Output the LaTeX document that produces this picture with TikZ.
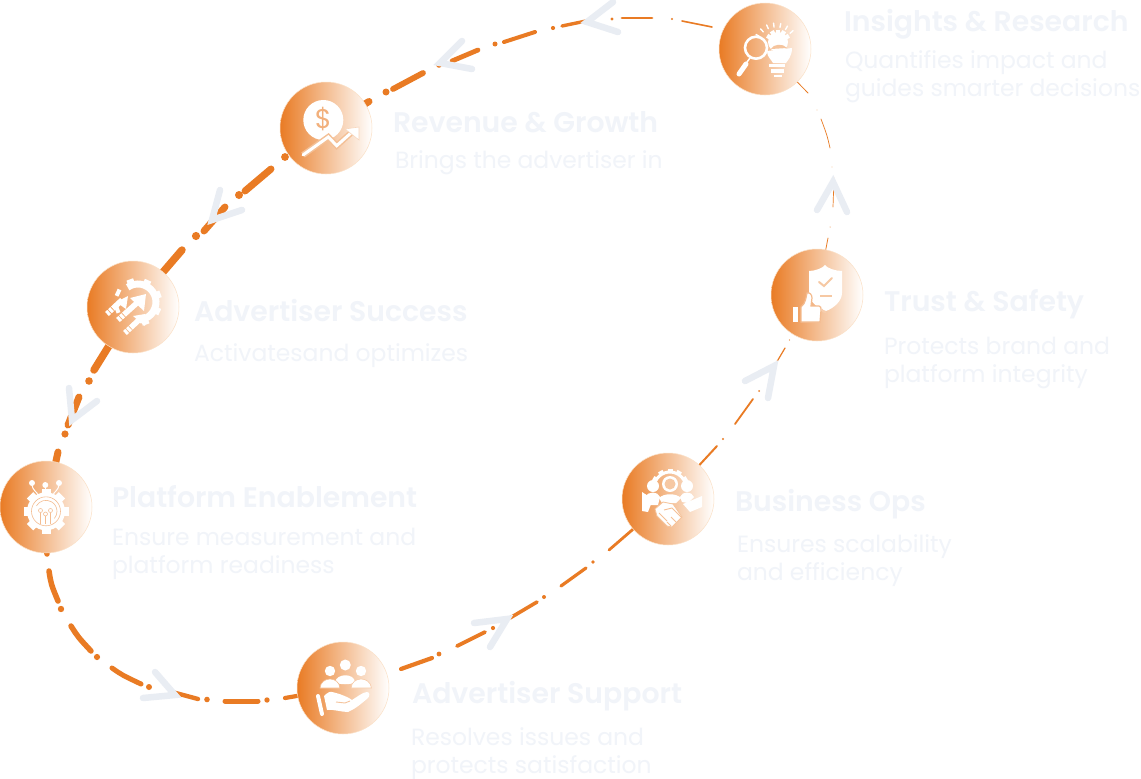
\documentclass[tikz,border=0pt]{standalone}
\usepackage{fontspec}
\setmainfont{Poppins}[BoldFont={Poppins SemiBold}]
\usetikzlibrary{arrows.meta,backgrounds,calc}
\definecolor{orng}{HTML}{E97B24}
\definecolor{chev}{HTML}{E9EDF3}
\definecolor{txt}{HTML}{F1F4F9}
\definecolor{rimc}{HTML}{FBE0C6}
\tikzset{
  x=1pt,y=-1pt,
  badge/.style={circle,minimum size=92pt,inner sep=0pt,outer sep=0pt,left color=orng,right color=white,draw=rimc,line width=.5pt},
  ttl/.style={anchor=base west,inner sep=0pt,outer sep=0pt,text=txt,font=\fontsize{28.3}{34}\selectfont\bfseries},
  dsc/.style={anchor=base west,inner sep=0pt,outer sep=0pt,text=txt,align=left,font=\fontsize{23.45}{28}\selectfont},
  seg/.style={draw=orng,line cap=round,line width=#1},
  chv/.style={draw=chev,line width=6.5pt,line cap=round,line join=miter},
  lin/.style={draw=white,line cap=round,line join=round},
}
\newcommand{\dt}[3]{\fill[orng] (#1,#2) circle[radius=#3pt];}
\newcommand{\teeth}[6]{% cx cy r halfw height anglelist
  \foreach \tang in {#6}{\fill[white,shift={(#1,#2)},rotate=\tang] (-#4,-#3) rectangle (#4,-#3-#5);}}
\begin{document}
\begin{tikzpicture}
\useasboundingbox (0,0) rectangle (1141,779);

% ---- badges
\node[badge] (insights) at (765,49) {};
\node[badge] (revenue) at (326,128) {};
\node[badge] (success) at (133,307) {};
\node[badge] (platform) at (46,507) {};
\node[badge] (support) at (343,688) {};
\node[badge] (bizops) at (668,499) {};
\node[badge] (trust) at (817,295) {};

% ---- ring, as one hand-tapered dash-dot stroke
\begin{scope}[on background layer]
\fill[white] (0,0) rectangle (1141,779);
\draw[seg=1.6pt] (682,21) -- (712,27);
\dt{672}{19}{1.1}
\draw[seg=2.8pt] (622,18) -- (652,18);
\dt{612}{19}{1.6}
\draw[seg=3.4pt] (562,26) -- (586,21);
\dt{553}{28}{2.1}
\draw[seg=4pt] (504,42) -- (535,32);
\dt{495}{44}{2.5}
\draw[seg=4.8pt] (452,61) -- (478,50);
\dt{439}{65}{2.8}
\draw[seg=5.8pt] (393,89) -- (423,73);
\dt{386}{92}{3.5}
\draw[seg=7pt] (369,101.5) -- (revenue);
\dt{285}{157}{3.9}
\draw[seg=7pt] (271,169) -- (245,191);
\dt{239}{195}{4}
\draw[seg=7pt] (225,207) -- (204,231);
\dt{196}{236}{4.1}
\draw[seg=7.5pt] (182,250) -- (success);
\draw[seg=7.5pt] (success) -- (94,370);
\dt{89}{381}{3.8}
\draw[seg=7pt] (79,397) -- (68,425);
\dt{65}{434}{3.6}
\draw[seg=7pt] (58,452) -- (platform);
\draw[seg=5.5pt] (platform) -- (47,554);
\draw[seg=5.5pt] (49,571) .. controls (51,584) .. (58,601);
\dt{61}{609}{3.2}
\draw[seg=5.5pt] (71,626) .. controls (78,637) .. (91,651);
\dt{97}{657}{3.1}
\draw[seg=5pt] (112,668) .. controls (122,675) .. (141,684);
\dt{149}{687}{3}
\draw[seg=4.4pt] (172,692) -- (198,699);
\dt{207}{699.5}{2.8}
\draw[seg=5pt] (225,701) -- (258,701);
\dt{267}{700}{2.7}
\draw[seg=4.2pt] (285,698) -- (support);
\draw[seg=4.2pt] (401,669) -- (432,658);
\dt{439}{654}{2.4}
\draw[seg=3.8pt] (457,646) -- (485,632);
\dt{493}{628}{2.1}
\draw[seg=3.6pt] (510,618) -- (537,602);
\dt{544}{597}{2}
\draw[seg=3.2pt] (561,586) -- (586,568);
\dt{593}{562}{1.9}
\draw[seg=2.8pt] (609,550) -- (bizops);
\draw[seg=2pt] (717,446) -- (bizops);
\dt{723}{439}{1.2}
\draw[seg=1.8pt] (735,424) -- (753,399);
\dt{759}{391}{1}
\draw[seg=1.2pt] (775,365) -- (785,348);
\dt{789.5}{340}{.7}
\draw[seg=.8pt] (trust) -- (828,238);
\dt{830}{227}{.5}
\draw[seg=.7pt] (833,207) -- (834,178);
\dt{832}{167}{.4}
\draw[seg=.7pt] (830,148) .. controls (827,135) .. (821,119);
\dt{817}{110}{.4}
\draw[seg=.8pt] (insights) -- (808,93);
% ---- chevrons
\draw[chv] (613,2) -- (587,22) -- (618,32);
\draw[chv] (462,41) -- (440,63) -- (472,69);
\draw[chv] (220,190) -- (212,220) -- (242,210);
\draw[chv] (69,388) -- (72,420) -- (97,401);
\draw[chv] (155,672) -- (175,695) -- (143,698);
\draw[chv] (474,623) -- (507,619) -- (490,647);
\draw[chv] (745,381) -- (774,366) -- (768,398);
\draw[chv] (817,210) -- (833,182) -- (847,212);
\end{scope}

% ---- icon: insights
\begin{scope}[shift={(insights.center)}]
\draw[lin,line width=2.6pt] (-9,-1.3) circle[radius=11pt];
\draw[lin,line width=1.5pt] (-15,9) -- (-18,13);
\draw[lin,line width=5pt] (-19,15) -- (-26,25);
\foreach \ra in {-150,-132,-114,-96,-78,-60,-42}{
  \draw[lin,line width=1.4pt] ($(11,-3)+(\ra:19)$) -- ($(11,-3)+(\ra:23)$);}
\fill[white] (13,-7) circle[radius=10pt];
\teeth{13}{-7}{9}{2.2}{3.5}{-60,-30,0,30,60}
\fill[white] (2,2) -- (27,-1) .. controls (27,8) and (22,12) .. (21,14) -- (8,14) .. controls (6,10) and (2,8) .. (2,2) -- cycle;
\fill[orng!45!white] (6,0) .. controls (8,-5) and (18,-6) .. (22,-1) -- cycle;
\fill[white] (4,15) rectangle (20,18);
\fill[white] (6,20) rectangle (19,24);
\fill[white] (9,26) rectangle (17,28);
\end{scope}

% ---- icon: revenue
\begin{scope}[shift={(revenue.center)}]
\fill[white] (-2.7,-8) circle[radius=20pt];
\node[inner sep=0pt,text=orng!60!white,font=\fontsize{27}{27}\selectfont] (dollar) at (-2.7,-9) {\$};
\draw[draw=orng!48!white,line width=6pt,line join=miter] (-23,27) -- (2.3,9) -- (10.7,17.7) -- (25.7,4.3);
\draw[lin,line width=3pt,line join=miter] (-23,27) -- (2.3,9) -- (10.7,17.7) -- (25.7,4.3);
\fill[white,draw=orng!30!white,line width=.6pt] (19,1) -- (33,-1) -- (33,12) -- cycle;
\end{scope}

% ---- icon: success
\begin{scope}[shift={(success.center)}]
\draw[white,line width=7pt] (5,-5) ++(-125:18) arc[start angle=-125,end angle=85,radius=18];
\teeth{5}{-5}{20}{3.5}{4}{-160,-115,-70,-25,20,65,110}
\begin{scope}[line width=5.5pt]
\draw[draw=white,dash pattern=on 3pt off 1pt on 3pt off 1pt on 30pt] (-26,7) -- (-11,-7);
\fill[white] (-5,-11) -- (-17,-5) -- (-7,2) -- cycle;
\draw[draw=white,dash pattern=on 3pt off 1pt on 3pt off 1pt on 30pt] (-15,13) -- (5,-5);
\fill[white] (13,-13) -- (-3,-9) -- (11,4) -- cycle;
\draw[draw=white,dash pattern=on 3pt off 1pt on 3pt off 1pt on 30pt] (-8,26) -- (7,12);
\fill[white] (12,7) -- (0,9) -- (12,19) -- cycle;
\end{scope}
\end{scope}

% ---- icon: platform
\begin{scope}[shift={(platform.center)}]
\fill[white] (0,4.3) circle[radius=19pt];
\teeth{0}{4.3}{17}{4.5}{5.5}{0,45,90,135,180,225,270,315}
\draw[orng!50!white,line width=.6pt] (0,4.3) circle[radius=14.5pt];
\draw[orng!50!white,line width=.6pt] (0,4.3) ++(-150:11) arc[start angle=-150,end angle=40,radius=11];
\foreach \px/\py in {-5.5/3.5,4.5/3.5,-0.5/7}{
  \draw[orng!50!white,line width=.6pt] (\px,\py) circle[radius=2pt];
  \draw[orng!50!white,line width=.6pt] (\px,\py+2) -- (\px,17);}
\fill[white] (-14,-24) circle[radius=3pt];
\fill[white] (-.7,-22) circle[radius=3pt];
\fill[white] (13,-24) circle[radius=3pt];
\draw[lin,line width=1pt] (-14,-24) .. controls (-14,-15) and (-8,-16) .. (-8,-11);
\draw[lin,line width=1pt] (-.7,-22) -- (-.7,-13);
\draw[lin,line width=1pt] (13,-24) .. controls (13,-15) and (7,-16) .. (7,-11);
\end{scope}

% ---- icon: support
\begin{scope}[shift={(support.center)}]
\fill[white] (2.3,-23) circle[radius=5.5pt];
\fill[white] (-13,-17) circle[radius=5.2pt];
\fill[white] (18,-17) circle[radius=5.2pt];
\fill[white] (-8,-6) .. controls (-6,-15) and (11,-15) .. (12,-6) .. controls (9,-3) and (-5,-3) .. (-8,-6) -- cycle;
\fill[white,draw=orng!50!white,line width=.6pt] (-23,0) .. controls (-22,-12) and (-4,-12) .. (-3,0) -- cycle;
\fill[white,draw=orng!40!white,line width=.6pt] (8,0) .. controls (9,-12) and (27,-12) .. (28.5,0) -- cycle;
\draw[lin,line width=4pt] (-25,8) -- (-21,26);
\fill[white] (-19,8) .. controls (-16,5) and (-13,3) .. (-11,4) .. controls (-6,5) and (0,7) .. (6,10) -- (9,12) .. controls (14,9) and (20,4) .. (24,4) .. controls (27,4) and (27,8) .. (25,10) .. controls (18,16) and (12,21) .. (5,24) .. controls (-2,24) and (-10,21) .. (-16,22) -- cycle;
\draw[orng!45!white,line width=.9pt] (-7,14) -- (2,15) -- (7,13);
\end{scope}

% ---- icon: business ops
\begin{scope}[shift={(bizops.center)}]
\draw[white,line width=3pt] (2,-11) ++(-165:16) arc[start angle=-165,end angle=-15,radius=16];
\teeth{2}{-11}{16.5}{2.5}{3}{-60,-30,0,30,60}
\fill[white] (-15,-13) circle[radius=6pt];
\fill[white] (19,-13) circle[radius=6pt];
\fill[white] (-23,-2) .. controls (-20,-8) and (-10,-8) .. (-8,-2) -- (-10,6) -- (-19,6) -- cycle;
\fill[white] (12,-2) .. controls (14,-8) and (24,-8) .. (26,-2) -- (20,4) -- (14,3) -- cycle;
\fill[white] (-9,-1) .. controls (-4,-6) and (8,-6) .. (13,-1) -- (8,4) -- (-6,4) -- cycle;
\fill[white] (2,-15) circle[radius=8pt];
\fill[orng!42!white] (2,-15) circle[radius=5.5pt];
\fill[white] (-26,-7) -- (-15,0) -- (-20,13) -- (-26,12) -- cycle;
\fill[white] (34,-3) -- (15,5) -- (22,13) -- (34,8) -- cycle;
\fill[white,draw=orng!45!white,line width=.8pt] (-13,10) -- (-5,3) -- (5,5) -- (14,18) -- (4,28) -- (-1,27) -- (-11,17) -- cycle;
\draw[orng!48!white,line width=.9pt] (-4,11) -- (4,9) -- (13,18);
\draw[orng!48!white,line width=.9pt] (-9,14) -- (-5,18) (-5,18) -- (-1,22) (-1,23) -- (3,27) (3,18) -- (8,23);
\end{scope}

% ---- icon: trust
\begin{scope}[shift={(trust.center)}]
\fill[white] (8,-30) .. controls (10,-27) and (18,-24) .. (25,-24) -- (25,-2) .. controls (25,6) and (17,13) .. (9,16) .. controls (0,13) and (-8,6) .. (-8,-2) -- (-8,-24) .. controls (-2,-24) and (6,-27) .. (8,-30) -- cycle;
\draw[orng!42!white,line width=2pt,line cap=round] (2,-13) -- (7,-9) -- (15,-17);
\draw[orng!42!white,line width=2pt] (3,1) -- (15,1);
\fill[white] (-24,12) rectangle (-19,27);
\fill[white,draw=orng!52!white,line width=1.2pt] (-16,27) -- (-16,12) .. controls (-11,8) and (-11,2) .. (-10,-2) .. controls (-7,-3) and (-5,0) .. (-5,3) -- (-6,11) -- (2,11) .. controls (4,11) and (4,13) .. (4,15) -- (3,27) -- cycle;
\draw[orng!38!white,line width=2pt] (4,14) .. controls (7,17) .. (9,17);
\end{scope}

% ---- texts
\node[ttl] (t1) at (844,31) {Insights \& Research};
\node[dsc] (d1) at (845,96) {Quantifies impact and\\guides smarter decisions};
\node[ttl] (t2) at (393,132) {Revenue \& Growth};
\node[dsc] (d2) at (395,168) {Brings the advertiser in};
\node[ttl] (t3) at (194,321) {Advertiser Success};
\node[dsc] (d3) at (194,361) {Activatesand optimizes};
\node[ttl] (t4) at (112,507) {Platform Enablement};
\node[dsc] (d4) at (112,573) {Ensure measurement and\\platform readiness};
\node[ttl] (t5) at (412,703) {Advertiser Support};
\node[dsc] (d5) at (411,773) {Resolves issues and\\protects satisfaction};
\node[ttl] (t6) at (735,511) {Business Ops};
\node[dsc] (d6) at (737,580) {Ensures scalability\\and efficiency};
\node[ttl] (t7) at (884,311) {Trust \& Safety};
\node[dsc] (d7) at (884,382) {Protects brand and\\platform integrity};
\end{tikzpicture}
\end{document}
